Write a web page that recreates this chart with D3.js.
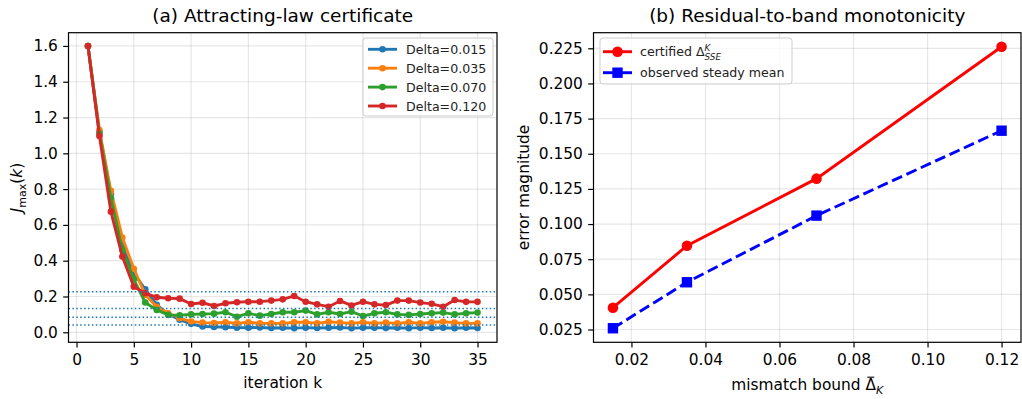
<!DOCTYPE html>
<html>
<head>
<meta charset="utf-8">
<script src="https://cdn.jsdelivr.net/npm/d3@7"></script>
<style>
  body { margin: 0; background: #fff; }
  svg { display: block; font-family: "DejaVu Sans", sans-serif; }
  .tick text { font-size: 15.4px; fill: #000; }
  .tick line { stroke: #000; stroke-width: 1.2; }
</style>
</head>
<body>
<div id="chart"></div>
<script>
// ---- data ----
const iterations = [1, 2, 3, 4, 5, 6, 7, 8, 9, 10, 11, 12, 13, 14, 15, 16, 17, 18,
  19, 20, 21, 22, 23, 24, 25, 26, 27, 28, 29, 30, 31, 32, 33, 34, 35];

const seriesNames = ["Delta=0.015", "Delta=0.035", "Delta=0.070", "Delta=0.120"];

const jDelta015 = [1.60, 1.12, 0.77, 0.48, 0.33, 0.24, 0.153, 0.102, 0.070, 0.047, 0.032, 0.030,
  0.028, 0.026, 0.025, 0.027, 0.024, 0.025, 0.023, 0.026, 0.024, 0.025, 0.027, 0.023, 0.025,
  0.026, 0.024, 0.025, 0.023, 0.026, 0.024, 0.025, 0.023, 0.025, 0.024];
const jDelta035 = [1.60, 1.13, 0.79, 0.53, 0.355, 0.21, 0.143, 0.106, 0.079, 0.060, 0.054, 0.052,
  0.056, 0.050, 0.056, 0.050, 0.050, 0.050, 0.056, 0.056, 0.050, 0.059, 0.054, 0.050, 0.056,
  0.050, 0.054, 0.050, 0.056, 0.050, 0.056, 0.059, 0.054, 0.050, 0.050];
const jDelta070 = [1.60, 1.11, 0.75, 0.46, 0.296, 0.166, 0.125, 0.097, 0.095, 0.100, 0.102, 0.104,
  0.112, 0.087, 0.106, 0.093, 0.102, 0.112, 0.112, 0.121, 0.100, 0.112, 0.102, 0.115, 0.091,
  0.106, 0.112, 0.100, 0.097, 0.102, 0.106, 0.110, 0.100, 0.106, 0.110];
const jDelta120 = [1.60, 1.097, 0.674, 0.423, 0.255, 0.218, 0.196, 0.190, 0.188, 0.158, 0.165, 0.147,
  0.162, 0.168, 0.171, 0.171, 0.177, 0.184, 0.203, 0.171, 0.156, 0.143, 0.175, 0.150, 0.171,
  0.156, 0.152, 0.177, 0.177, 0.166, 0.159, 0.143, 0.180, 0.170, 0.170];

const mismatchBounds = [0.015, 0.035, 0.070, 0.120];
const certifiedBand = [0.0405, 0.0846, 0.1323, 0.2261];
const observedMean = [0.0259, 0.0586, 0.1060, 0.1664];

const leftXTicks = [0, 5, 10, 15, 20, 25, 30, 35];
const leftYTicks = [0.0, 0.2, 0.4, 0.6, 0.8, 1.0, 1.2, 1.4, 1.6];
const rightXTicks = [0.02, 0.04, 0.06, 0.08, 0.10, 0.12];
const rightYTicks = [0.025, 0.050, 0.075, 0.100, 0.125, 0.150, 0.175, 0.200, 0.225];

const colors = ["#1f77b4", "#ff7f0e", "#2ca02c", "#d62728"];
const allSeries = [jDelta015, jDelta035, jDelta070, jDelta120];

// ---- layout ----
const W = 1022, H = 399;
const plotTop = 32.7, plotBottom = 342.3;
const left = { x0: 68.5, x1: 497 };
const right = { x0: 593.5, x1: 1021 };

const svg = d3.select("#chart").append("svg")
  .attr("width", W)
  .attr("height", H);
svg.append("rect").attr("width", W).attr("height", H).attr("fill", "#fff");

function grid(g, x, y, xt, yt) {
  g.selectAll(".gx").data(xt).enter().append("line")
    .attr("x1", d => x(d)).attr("x2", d => x(d))
    .attr("y1", plotTop).attr("y2", plotBottom)
    .attr("stroke", "#b0b0b0").attr("stroke-opacity", 0.3).attr("stroke-width", 1.2);
  g.selectAll(".gy").data(yt).enter().append("line")
    .attr("y1", d => y(d)).attr("y2", d => y(d))
    .attr("x1", x.range()[0]).attr("x2", x.range()[1])
    .attr("stroke", "#b0b0b0").attr("stroke-opacity", 0.3).attr("stroke-width", 1.2);
}

function axes(g, x, y, xt, yt, xfmt, yfmt) {
  g.append("g")
    .attr("transform", `translate(0,${plotBottom})`)
    .call(d3.axisBottom(x).tickValues(xt).tickFormat(xfmt).tickSize(5.3).tickPadding(6.5))
    .call(a => a.select(".domain").remove())
    .selectAll("text").attr("font-family", "DejaVu Sans");
  g.append("g")
    .attr("transform", `translate(${x.range()[0]},0)`)
    .call(d3.axisLeft(y).tickValues(yt).tickFormat(yfmt).tickSize(5.3).tickPadding(5.3))
    .call(a => a.select(".domain").remove())
    .selectAll("text").attr("font-family", "DejaVu Sans");
  g.append("rect")
    .attr("x", x.range()[0]).attr("y", plotTop)
    .attr("width", x.range()[1] - x.range()[0]).attr("height", plotBottom - plotTop)
    .attr("fill", "none").attr("stroke", "#000").attr("stroke-width", 1.2);
}

// ===== (a) left panel =====
const gA = svg.append("g");
const xA = d3.scaleLinear().domain([-0.7, 36.7]).range([left.x0, left.x1]);
const yA = d3.scaleLinear().domain([-0.056, 1.674]).range([plotBottom, plotTop]);

grid(gA, xA, yA, leftXTicks, leftYTicks);

const lineA = d3.line().x((d, i) => xA(iterations[i])).y(d => yA(d));

allSeries.forEach((s, si) => {
  gA.append("path")
    .datum(s)
    .attr("d", lineA)
    .attr("fill", "none")
    .attr("stroke", colors[si])
    .attr("stroke-width", 2.9)
    .attr("stroke-linejoin", "round");
  gA.selectAll(".dot" + si)
    .data(s)
    .enter().append("circle")
    .attr("cx", (d, i) => xA(iterations[i]))
    .attr("cy", d => yA(d))
    .attr("r", 3.3)
    .attr("fill", colors[si]);
});

// certified band levels
gA.selectAll(".band")
  .data(certifiedBand)
  .enter().append("line")
  .attr("x1", left.x0).attr("x2", left.x1)
  .attr("y1", d => yA(d)).attr("y2", d => yA(d))
  .attr("stroke", "#1f77b4")
  .attr("stroke-width", 1.5)
  .attr("stroke-dasharray", "1.5,2.4");

axes(gA, xA, yA, leftXTicks, leftYTicks, d3.format("d"), d3.format(".1f"));

gA.append("text")
  .attr("x", (left.x0 + left.x1) / 2).attr("y", 22)
  .attr("text-anchor", "middle").attr("font-size", 18.5)
  .text("(a) Attracting-law certificate");

gA.append("text")
  .attr("x", (left.x0 + left.x1) / 2).attr("y", 388)
  .attr("text-anchor", "middle").attr("font-size", 15.4)
  .text("iteration k");

const yLabA = gA.append("text")
  .attr("transform", `translate(22,${(plotTop + plotBottom) / 2}) rotate(-90)`)
  .attr("text-anchor", "middle").attr("font-size", 15.4);
yLabA.append("tspan").attr("font-style", "italic").text("J");
yLabA.append("tspan").attr("font-size", 11).attr("dy", 3.5).text("max");
yLabA.append("tspan").attr("dy", -3.5).text("(");
yLabA.append("tspan").attr("font-style", "italic").text("k");
yLabA.append("tspan").text(")");

// legend (a)
const legA = gA.append("g");
legA.append("rect")
  .attr("x", 363).attr("y", 38).attr("width", 130).attr("height", 78).attr("rx", 3)
  .attr("fill", "#fff").attr("fill-opacity", 0.8)
  .attr("stroke", "#cccccc").attr("stroke-width", 1);
seriesNames.forEach((name, i) => {
  const cy = 49.3 + i * 18.9;
  legA.append("line").attr("x1", 368).attr("x2", 397).attr("y1", cy).attr("y2", cy)
    .attr("stroke", colors[i]).attr("stroke-width", 2.9);
  legA.append("circle").attr("cx", 382.5).attr("cy", cy).attr("r", 3.3).attr("fill", colors[i]);
  legA.append("text").attr("x", 406).attr("y", cy).attr("dy", "0.36em")
    .attr("font-size", 12.6).attr("fill", "#222").text(name);
});

// ===== (b) right panel =====
const gB = svg.append("g");
const xB = d3.scaleLinear().domain([0.00975, 0.12525]).range([right.x0, right.x1]);
const yB = d3.scaleLinear().domain([0.0159, 0.2361]).range([plotBottom, plotTop]);

grid(gB, xB, yB, rightXTicks, rightYTicks);

const lineB = d3.line().x((d, i) => xB(mismatchBounds[i])).y(d => yB(d));

gB.append("path")
  .datum(certifiedBand)
  .attr("d", lineB)
  .attr("fill", "none").attr("stroke", "red").attr("stroke-width", 2.9);
gB.selectAll(".cdot")
  .data(certifiedBand)
  .enter().append("circle")
  .attr("cx", (d, i) => xB(mismatchBounds[i]))
  .attr("cy", d => yB(d))
  .attr("r", 5.3).attr("fill", "red");

gB.append("path")
  .datum(observedMean)
  .attr("d", lineB)
  .attr("fill", "none").attr("stroke", "blue").attr("stroke-width", 2.9)
  .attr("stroke-dasharray", "11,4.8");
gB.selectAll(".odot")
  .data(observedMean)
  .enter().append("rect")
  .attr("x", (d, i) => xB(mismatchBounds[i]) - 5.2)
  .attr("y", d => yB(d) - 5.2)
  .attr("width", 10.4).attr("height", 10.4).attr("fill", "blue");

axes(gB, xB, yB, rightXTicks, rightYTicks, d3.format(".2f"), d3.format(".3f"));

gB.append("text")
  .attr("x", (right.x0 + right.x1) / 2).attr("y", 22)
  .attr("text-anchor", "middle").attr("font-size", 18.5)
  .text("(b) Residual-to-band monotonicity");

const xLabB = gB.append("text")
  .attr("x", (right.x0 + right.x1) / 2).attr("y", 390)
  .attr("text-anchor", "middle").attr("font-size", 15.4);
xLabB.append("tspan").text("mismatch bound ");
xLabB.append("tspan").text("Δ");
xLabB.append("tspan").attr("font-size", 11).attr("font-style", "italic").attr("dy", 3.5).text("K");
// bar over the Delta
const dBox = xLabB.node().getExtentOfChar(15);
gB.append("line")
  .attr("x1", dBox.x + 1.8).attr("x2", dBox.x + dBox.width - 1.8)
  .attr("y1", dBox.y + 1.2).attr("y2", dBox.y + 1.2)
  .attr("stroke", "#000").attr("stroke-width", 1.1);

gB.append("text")
  .attr("transform", `translate(529,${(plotTop + plotBottom) / 2}) rotate(-90)`)
  .attr("text-anchor", "middle").attr("font-size", 15.4)
  .text("error magnitude");

// legend (b)
const legB = gB.append("g");
legB.append("rect")
  .attr("x", 600).attr("y", 38).attr("width", 192).attr("height", 46).attr("rx", 3)
  .attr("fill", "#fff").attr("fill-opacity", 0.8)
  .attr("stroke", "#cccccc").attr("stroke-width", 1);
legB.append("line").attr("x1", 603).attr("x2", 632).attr("y1", 51.7).attr("y2", 51.7)
  .attr("stroke", "red").attr("stroke-width", 2.9);
legB.append("circle").attr("cx", 617.5).attr("cy", 51.7).attr("r", 5.3).attr("fill", "red");
legB.append("line").attr("x1", 603).attr("x2", 632).attr("y1", 72.7).attr("y2", 72.7)
  .attr("stroke", "blue").attr("stroke-width", 2.9);
legB.append("rect").attr("x", 612.3).attr("y", 67.5).attr("width", 10.4).attr("height", 10.4).attr("fill", "blue");

const t1 = legB.append("text").attr("x", 640).attr("y", 51.7 + 4.5)
  .attr("font-size", 12.6).attr("fill", "#222");
t1.append("tspan").text("certified Δ");
t1.append("tspan").attr("font-size", 8.8).attr("font-style", "italic").attr("dy", -5.5).text("K");
t1.append("tspan").attr("font-size", 8.8).attr("font-style", "italic").attr("dx", -5.8).attr("dy", 9).text("SSE");
legB.append("text").attr("x", 640).attr("y", 72.7).attr("dy", "0.36em")
  .attr("font-size", 12.6).attr("fill", "#222").text("observed steady mean");
</script>
</body>
</html>
